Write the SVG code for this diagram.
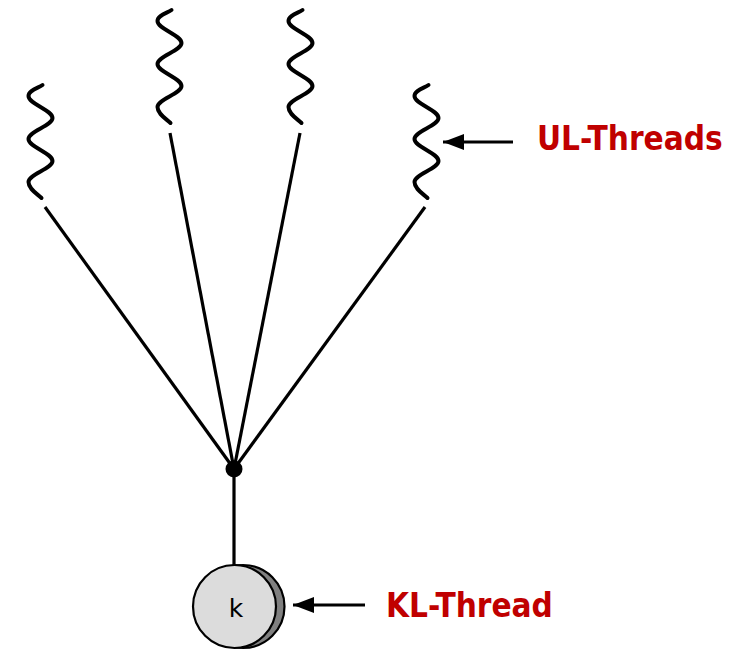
<svg xmlns="http://www.w3.org/2000/svg" width="730" height="650" viewBox="0 0 730 650">
  <style>
    .wave { fill: none; stroke: #000; stroke-width: 4; stroke-linecap: round; }
    .conn { stroke: #000; stroke-width: 3.2; fill: none; }
    .label { font-family: "DejaVu Sans Condensed", "DejaVu Sans", Verdana, sans-serif; font-stretch: condensed; font-weight: bold; font-size: 33px; fill: #c00000; }
    .k { font-family: "DejaVu Sans", "Liberation Sans", sans-serif; font-size: 25px; fill: #000; }
  </style>
  <defs>
    <path id="wavePath" d="M 2 0 C -2 3, -12 5, -12 11 C -12 19, 12 25, 12 33 C 12 41, -12 46, -12 54 C -12 62, 12 68, 12 76 C 12 84, -12 89, -12 97 C -12 104, -3 109, 1 113"/>
    <marker id="arrow" viewBox="0 0 21 16" refX="21" refY="8" markerWidth="21" markerHeight="16" markerUnits="userSpaceOnUse" orient="auto">
      <path d="M 0 0 L 21 8 L 0 16 Z" fill="#000"/>
    </marker>
  </defs>

  <g id="connectors">
    <line class="conn" x1="45" y1="207" x2="234" y2="469"/>
    <line class="conn" x1="170" y1="133" x2="234" y2="469"/>
    <line class="conn" x1="300" y1="133" x2="234" y2="469"/>
    <line class="conn" x1="425" y1="207" x2="234" y2="469"/>
    <line class="conn" x1="234" y1="469" x2="234" y2="566"/>
    <line class="conn" x1="513" y1="142" x2="443" y2="142" marker-end="url(#arrow)"/>
    <line class="conn" x1="365" y1="605" x2="293" y2="605" marker-end="url(#arrow)"/>
  </g>

  <g id="ul-thread-1"><use href="#wavePath" class="wave" transform="translate(40.5,85)"/></g>
  <g id="ul-thread-2"><use href="#wavePath" class="wave" transform="translate(169.5,10)"/></g>
  <g id="ul-thread-3"><use href="#wavePath" class="wave" transform="translate(300.5,10)"/></g>
  <g id="ul-thread-4"><use href="#wavePath" class="wave" transform="translate(426.5,85)"/></g>

  <g id="junction"><circle cx="234" cy="469" r="8.5" fill="#000"/></g>

  <g id="kl-thread">
    <circle cx="243" cy="606.5" r="41.5" fill="#808080" stroke="#000" stroke-width="2.2"/>
    <circle cx="234.5" cy="606.5" r="41.5" fill="#dcdcdc" stroke="#000" stroke-width="2.2"/>
    <text class="k" x="236" y="617" text-anchor="middle">k</text>
  </g>

  <g id="label-ul"><text class="label" x="537" y="150">UL-Threads</text></g>
  <g id="label-kl"><text class="label" x="386" y="617">KL-Thread</text></g>
</svg>
